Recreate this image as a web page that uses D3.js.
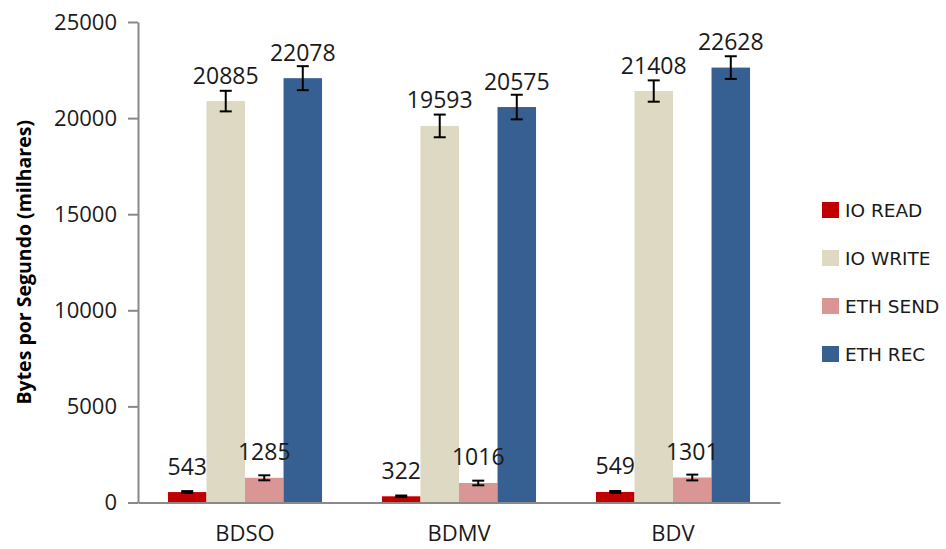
<!DOCTYPE html>
<html><head><meta charset="utf-8">
<script src="https://cdn.jsdelivr.net/npm/d3@7"></script>
<style>html,body{margin:0;padding:0;background:#fff;}svg{display:block;}</style>
</head><body>
<svg id="chart" width="946" height="549"></svg>
<script>
const categories = ["BDSO", "BDMV", "BDV"];
const seriesNames = ["IO READ", "IO WRITE", "ETH SEND", "ETH REC"];
const ioRead = [543, 322, 549];
const ioWrite = [20885, 19593, 21408];
const ethSend = [1285, 1016, 1301];
const ethRec = [22078, 20575, 22628];
const ioReadErr = [50, 40, 50];
const ioWriteErr = [535, 590, 555];
const ethSendErr = [130, 120, 150];
const ethRecErr = [624, 640, 590];
const yTicks = [0, 5000, 10000, 15000, 20000, 25000];
const colors = ["#C00000", "#DDD9C3", "#D99694", "#376092"];
const yTitle = "Bytes por Segundo (milhares)";

const values = [ioRead, ioWrite, ethSend, ethRec];
const errors = [ioReadErr, ioWriteErr, ethSendErr, ethRecErr];

const svg = d3.select("#chart");
const mLeft = 138, mRight = 780, mTop = 22, mBottom = 502.5;

const x0 = d3.scaleBand().domain(categories).range([mLeft, mRight]).paddingInner(0.28).paddingOuter(0.14);
const x1 = d3.scaleBand().domain(seriesNames).range([0, x0.bandwidth()]);
const y = d3.scaleLinear().domain([0, 25000]).range([mBottom, mTop]);

const data = [];
categories.forEach((c, ci) => {
  seriesNames.forEach((s, si) => {
    data.push({cat: c, ser: s, si, v: values[si][ci], e: errors[si][ci]});
  });
});

// bars
svg.append("g").selectAll("rect").data(data).join("rect")
  .attr("x", d => x0(d.cat) + x1(d.ser))
  .attr("y", d => y(d.v))
  .attr("width", x1.bandwidth())
  .attr("height", d => y(0) - y(d.v))
  .attr("fill", d => colors[d.si]);

// error bars
const capW = 12;
const eg = svg.append("g").attr("stroke", "#000").attr("stroke-width", 2);
data.forEach(d => {
  const cx = x0(d.cat) + x1(d.ser) + x1.bandwidth() / 2;
  const y1 = y(d.v + d.e), y2 = y(d.v - d.e);
  eg.append("line").attr("x1", cx).attr("x2", cx).attr("y1", y1).attr("y2", y2);
  eg.append("line").attr("x1", cx - capW/2).attr("x2", cx + capW/2).attr("y1", y1).attr("y2", y1);
  eg.append("line").attr("x1", cx - capW/2).attr("x2", cx + capW/2).attr("y1", y2).attr("y2", y2);
});

// value labels
svg.append("g").selectAll("text").data(data).join("text")
  .attr("x", d => x0(d.cat) + x1(d.ser) + x1.bandwidth() / 2)
  .attr("y", d => y(d.v) - 17.5)
  .attr("text-anchor", "middle")
  .attr("font-family", "'Open Sans', sans-serif")
  .attr("font-size", 23)
  .attr("fill", "#1a1a1a")
  .text(d => d.v);

// y axis
const yAxis = svg.append("g").attr("transform", `translate(${mLeft},0)`)
  .call(d3.axisLeft(y).tickValues(yTicks).tickSize(10).tickSizeOuter(0).tickPadding(11).tickFormat(d3.format("d")));
yAxis.select(".domain").attr("stroke", "#898989").attr("stroke-width", 2);
yAxis.selectAll(".tick line").attr("stroke", "#898989").attr("stroke-width", 2);
yAxis.selectAll(".tick text").attr("font-family", "'Open Sans', sans-serif").attr("font-size", 22).attr("fill", "#1a1a1a");

// x axis
const xAxis = svg.append("g").attr("transform", `translate(0,${mBottom})`)
  .call(d3.axisBottom(x0).tickSize(0).tickSizeOuter(0).tickPadding(23));
xAxis.select(".domain").attr("stroke", "#898989").attr("stroke-width", 2);
xAxis.selectAll(".tick text").attr("font-family", "'Open Sans', sans-serif").attr("font-size", 22).attr("fill", "#1a1a1a");

// y title
svg.append("text")
  .attr("transform", `translate(31,${(mTop + mBottom) / 2}) rotate(-90)`)
  .attr("text-anchor", "middle")
  .attr("font-family", "'Open Sans', sans-serif")
  .attr("font-weight", "bold")
  .attr("font-size", 19.5)
  .attr("fill", "#000")
  .text(yTitle);

// legend
const lg = svg.append("g");
seriesNames.forEach((s, i) => {
  const cy = 210 + i * 48;
  lg.append("rect").attr("x", 822).attr("y", cy - 8).attr("width", 17).attr("height", 16).attr("fill", colors[i]);
  lg.append("text").attr("x", 845).attr("y", cy + 7)
    .attr("font-family", "'DejaVu Sans', sans-serif").attr("font-size", 18.5).attr("fill", "#1a1a1a").text(s);
});
</script>
</body></html>
